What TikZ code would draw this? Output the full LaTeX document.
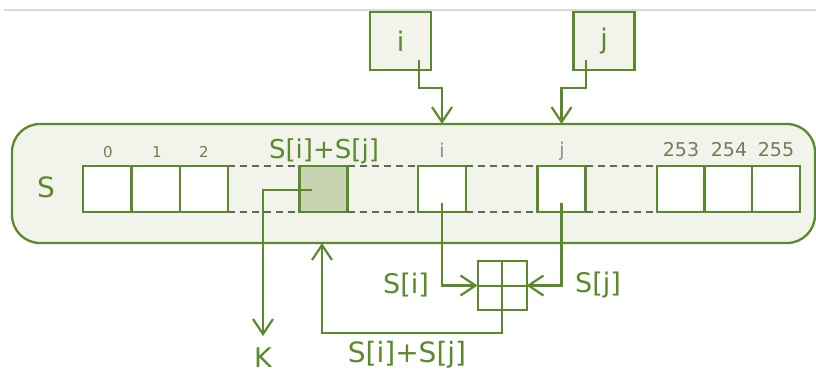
\documentclass[tikz,border=0pt]{standalone}
\usepackage{fontspec}
\setmainfont{DejaVu Sans}
\usetikzlibrary{arrows.meta,calc}
\definecolor{grn}{HTML}{5B8A2C}
\definecolor{txtg}{HTML}{5A8A2A}
\definecolor{pale}{HTML}{F2F4EC}
\definecolor{shade}{HTML}{C7D3B1}
\definecolor{dashc}{HTML}{5F6B52}
\definecolor{idxc}{HTML}{6F7F55}
\tikzset{
  x=1pt,y=-1pt,
  every node/.style={inner sep=0pt,outer sep=0pt},
  cell/.style={draw=grn,line width=2.3pt,fill=white,minimum width=48pt,minimum height=46pt},
  topbox/.style={draw=grn,line width=2.3pt,fill=pale,minimum width=61pt,minimum height=58pt,text=txtg,font=\fontsize{27}{29}\selectfont},
  conn/.style={draw=grn,line width=2.2pt,-{Straight Barb[length=15pt,width=20pt,line width=2.2pt]}},
  plainln/.style={draw=grn,line width=2pt},
  dsh/.style={draw=dashc,line width=1.7pt,dash pattern=on 7pt off 5pt},
  lbl/.style={text=txtg,font=\fontsize{27}{29}\selectfont},
  idx/.style={text=idxc,font=\fontsize{19}{21}\selectfont},
}
\begin{document}
\begin{tikzpicture}
\useasboundingbox (0,0) rectangle (816,376);
\fill[white] (0,0) rectangle (816,376);
\draw[line width=2pt,color=black!15] (4,10) -- (816,10);
% big container
\node[draw=grn,line width=2.3pt,fill=pale,rounded corners=28pt,minimum width=803pt,minimum height=119pt] (S) at (413.5,183.5) {};
% top boxes
\node[topbox] (ibox) at (400.5,41) {i};
\node[topbox] (jbox) at (604,41) {j};
% cells
\node[cell] (c0) at (107,189) {};
\node[cell] (c1) at (156,189) {};
\node[cell] (c2) at (204,189) {};
\node[cell,fill=shade] (cs) at (323.5,189) {};
\node[cell] (ci) at (442,189) {};
\node[cell] (cj) at (561.5,189) {};
\node[cell] (c253) at (681,189) {};
\node[cell] (c254) at (728.5,189) {};
\node[cell] (c255) at (776,189) {};
% dashed joins
\draw[dsh] (c2.north east) -- (cs.north west);
\draw[dsh] (c2.south east) -- (cs.south west);
\draw[dsh] (cs.north east) -- (ci.north west);
\draw[dsh] (cs.south east) -- (ci.south west);
\draw[dsh] (ci.north east) -- (cj.north west);
\draw[dsh] (ci.south east) -- (cj.south west);
\draw[dsh] (cj.north east) -- (c253.north west);
\draw[dsh] (cj.south east) -- (c253.south west);
% labels
\node[lbl,font=\fontsize{28}{30}\selectfont] (Slbl) at (46,187) {S};
\node[idx,font=\fontsize{15}{17}\selectfont] (l0) at (108,152) {0};
\node[idx,font=\fontsize{15}{17}\selectfont] (l1) at (157,152) {1};
\node[idx,font=\fontsize{15}{17}\selectfont] (l2) at (204,152) {2};
\node[lbl,font=\fontsize{26}{28}\selectfont] (lsum) at (324,151) {S[i]+S[j]};
\node[idx,text=black!45] (li) at (442,150) {i};
\node[idx,text=black!45] (lj) at (562,151) {j};
\node[idx] (l253) at (681,150) {253};
\node[idx] (l254) at (729,150) {254};
\node[idx] (l255) at (776,150) {255};
% plus box
\node[draw=grn,line width=2pt,fill=white,minimum size=49pt] (plus) at (502,285.5) {};
\draw[plainln] (plus.north) -- (plus.south);
\draw[plainln] (plus.west) -- (plus.east);
% coordinates
\coordinate (ia) at (419,60);
\coordinate (ja) at (586,60);
\coordinate (itop) at (442,124);
\coordinate (jtop) at (561.5,124);
\coordinate (is) at (442,203);
\coordinate (js) at (561.5,203);
\coordinate (ks) at (312,190);
\coordinate (kend) at (263,336);
\coordinate (sbot) at (322,243);
% connectors
\draw[conn] (ia) |- (442,88) -- (itop);
\draw[conn] (ja) |- (561.5,88) -- (jtop);
\draw[conn] (is) |- (plus.west);
\draw[conn] (js) |- (plus.east);
\draw[conn] (plus.south) -- (502,333) -| (sbot);
\draw[conn] (ks) -| (kend);
% lower labels
\node[lbl] (lsi) at (406,285) {S[i]};
\node[lbl] (lsj) at (598,285) {S[j]};
\node[lbl,font=\fontsize{28}{30}\selectfont] (lsum2) at (407,355) {S[i]+S[j]};
\node[lbl,font=\fontsize{27}{29}\selectfont] (K) at (263,358) {K};
\end{tikzpicture}
\end{document}
